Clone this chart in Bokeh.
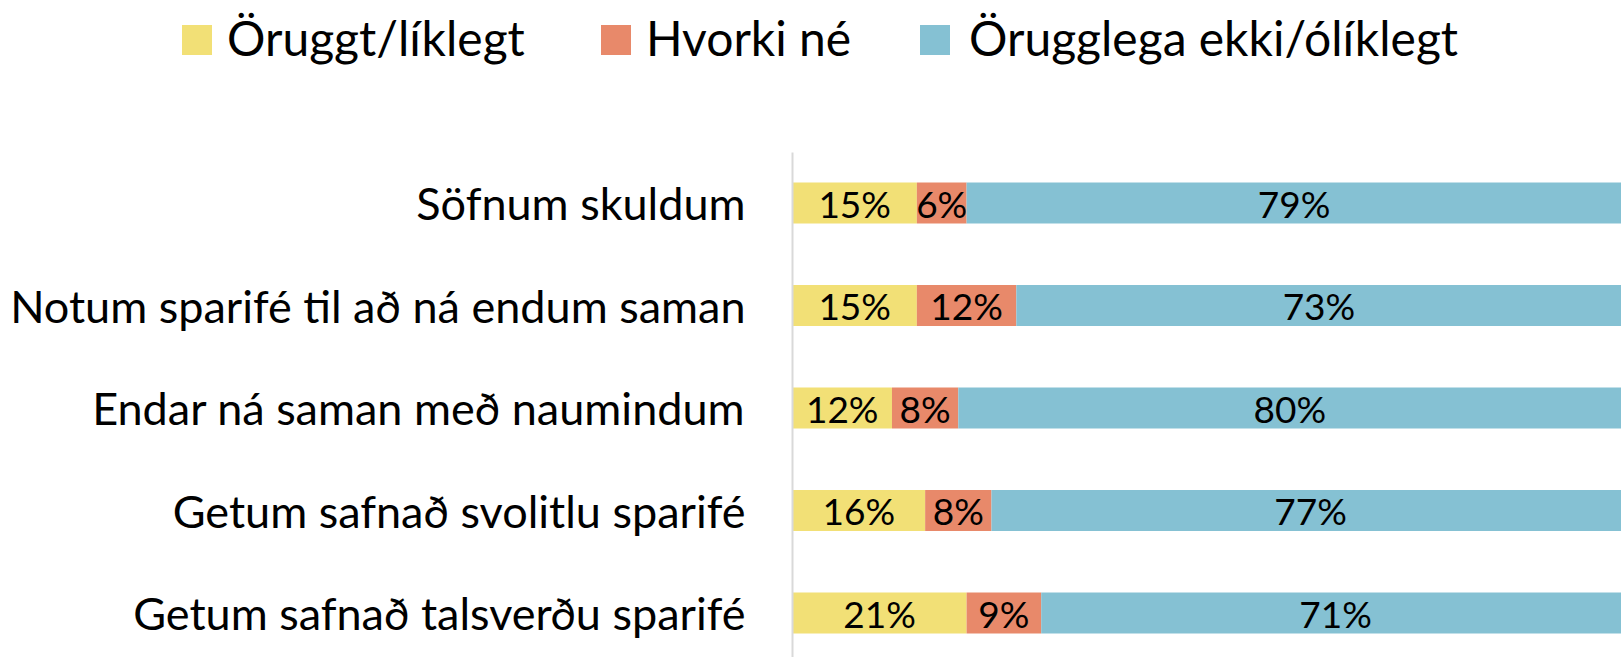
from bokeh.plotting import figure
from bokeh.layouts import column
from bokeh.models import Range1d, FixedTicker, ColumnDataSource, Div
from bokeh.core.properties import value
from bokeh.embed import file_html
from bokeh.resources import INLINE

categories = [
    "Söfnum skuldum",
    "Notum sparifé til að ná endum saman",
    "Endar ná saman með naumindum",
    "Getum safnað svolitlu sparifé",
    "Getum safnað talsverðu sparifé",
]
series_names = ["Öruggt/líklegt", "Hvorki né", "Örugglega ekki/ólíklegt"]
likely = [15, 15, 12, 16, 21]
neither = [6, 12, 8, 8, 9]
unlikely = [79, 73, 80, 77, 71]
colors = ["#F2E076", "#E8896A", "#85C1D3"]

FONT = "Lato"

ypos = list(range(len(categories)))

# ---- legend strip (HTML) ----
swatch_x = [182, 601, 920]
label_x = [227, 646, 969]
parts = []
for name, col, sx, tx in zip(series_names, colors, swatch_x, label_x):
    parts.append(f'<div style="position:absolute;left:{sx}px;top:25px;width:30px;height:30px;'
                 f'background:{col};"></div>')
    parts.append(f'<div style="position:absolute;left:{tx}px;top:14px;white-space:nowrap;">{name}</div>')
legend_html = ('<div style="position:relative;width:1621px;height:152px;font-family:Lato;'
               'font-size:48px;line-height:48px;color:#000000;">' + "".join(parts) + '</div>')
legend_div = Div(text=legend_html, width=1621, height=152, styles={"margin": "0", "padding": "0"})

# ---- main chart ----
p = figure(width=1621, height=505, output_backend="svg", toolbar_location=None,
           x_range=Range1d(0, 100), y_range=Range1d(4.434, -0.493),
           min_border_left=792, min_border_right=0, min_border_top=0,
           min_border_bottom=0)
p.outline_line_color = None
p.xgrid.visible = False
p.ygrid.visible = False
p.xaxis.visible = False

series = [likely, neither, unlikely]
left = [0.0] * len(categories)
for vals, col in zip(series, colors):
    right = [l + v for l, v in zip(left, vals)]
    src = ColumnDataSource(dict(y=ypos, left=left, right=right,
                                mid=[(l + r) / 2 for l, r in zip(left, right)],
                                txt=[f"{v}%" for v in vals]))
    p.hbar(y="y", left="left", right="right", height=0.4, source=src,
           fill_color=col, line_color=None)
    p.text(x="mid", y="y", text="txt", source=src, text_align="center",
           text_baseline="middle", text_font=value(FONT), text_font_size="37px",
           text_color="black")
    left = right

yax = p.yaxis[0]
yax.ticker = FixedTicker(ticks=ypos)
yax.major_label_overrides = {i: c for i, c in zip(ypos, categories)}
yax.major_tick_line_color = None
yax.minor_tick_line_color = None
yax.major_tick_out = 0
yax.major_tick_in = 0
yax.minor_tick_out = 0
yax.axis_line_color = "#D9D9D9"
yax.axis_line_width = 2
yax.major_label_text_font = FONT
yax.major_label_text_font_size = "45px"
yax.major_label_text_color = "black"
yax.major_label_standoff = 47

layout = column(legend_div, p, spacing=0)
open("out.html", "w").write(file_html(layout, INLINE))
